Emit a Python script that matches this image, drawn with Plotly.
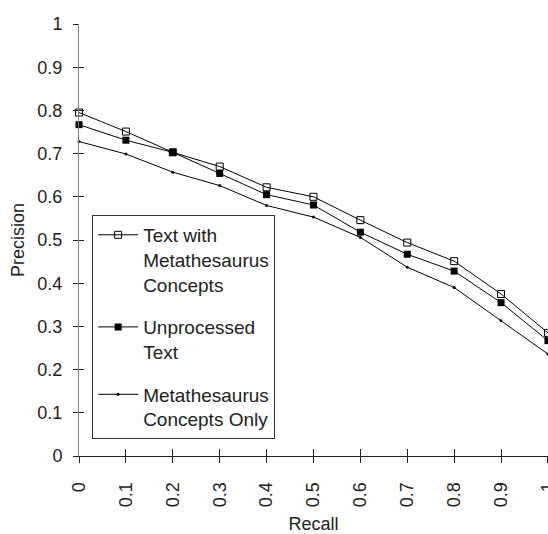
import plotly.graph_objects as go

recall = [0, 0.1, 0.2, 0.3, 0.4, 0.5, 0.6, 0.7, 0.8, 0.9, 1.0]
text_meta = [0.795, 0.751, 0.703, 0.670, 0.622, 0.600, 0.546, 0.494, 0.451, 0.375, 0.285]
unprocessed = [0.767, 0.731, 0.703, 0.654, 0.605, 0.581, 0.518, 0.467, 0.428, 0.355, 0.267]
meta_only = [0.728, 0.699, 0.657, 0.626, 0.580, 0.553, 0.506, 0.437, 0.390, 0.313, 0.236]

names = ["Text with<br>Metathesaurus<br>Concepts", "Unprocessed<br>Text",
         "Metathesaurus<br>Concepts Only"]
x_ticks = [0, 0.1, 0.2, 0.3, 0.4, 0.5, 0.6, 0.7, 0.8, 0.9, 1]
x_labels = ["0", "0.1", "0.2", "0.3", "0.4", "0.5", "0.6", "0.7", "0.8", "0.9", "1"]
y_ticks = [0, 0.1, 0.2, 0.3, 0.4, 0.5, 0.6, 0.7, 0.8, 0.9, 1]
y_labels = ["0", "0.1", "0.2", "0.3", "0.4", "0.5", "0.6", "0.7", "0.8", "0.9", "1"]

FONT = "Liberation Sans, Arial, sans-serif"

fig = go.Figure()
fig.add_trace(go.Scatter(x=recall, y=text_meta, name=names[0], mode="lines+markers",
                         line=dict(color="black", width=1),
                         marker=dict(symbol="square-open", size=7, color="black", line=dict(width=1)),
                         legendgroup="a", cliponaxis=False))
fig.add_trace(go.Scatter(x=recall, y=unprocessed, name=names[1], mode="lines+markers",
                         line=dict(color="black", width=1),
                         marker=dict(symbol="square", size=7, color="black"),
                         legendgroup="b", cliponaxis=False))
fig.add_trace(go.Scatter(x=recall, y=meta_only, name=names[2], mode="lines+markers",
                         line=dict(color="black", width=1),
                         marker=dict(symbol="circle", size=3, color="black"),
                         legendgroup="c", cliponaxis=False))

axis_gray = "#7f7f7f"
fig.update_layout(
    width=548, height=534,
    margin=dict(l=79, r=0, t=24, b=78, autoexpand=False),
    paper_bgcolor="white", plot_bgcolor="white",
    font=dict(family=FONT, size=18, color="#222"),
    showlegend=True,
    legend=dict(x=0.028, y=0.558, xanchor="left", yanchor="top",
                bordercolor="#333", borderwidth=1, bgcolor="white",
                font=dict(family=FONT, size=19, color="#222"),
                traceorder="grouped", tracegroupgap=15, valign="top",
                itemwidth=40),
    xaxis=dict(range=[0, 1.0001], tickvals=x_ticks, ticktext=x_labels, tickangle=-90,
               showgrid=False, zeroline=False, showline=True, linecolor="#222", linewidth=1,
               ticks="outside", ticklen=6, tickcolor="#222", ticklabelstandoff=12,
               ticklabeloverflow="allow", automargin=False,
               title=dict(text="Recall", standoff=14, font=dict(size=18))),
    yaxis=dict(range=[0, 1], tickvals=y_ticks, ticktext=y_labels,
               showgrid=False, zeroline=False, showline=True, linecolor=axis_gray, linewidth=1,
               ticks="outside", ticklen=5, tickcolor="#222", ticklabelstandoff=7,
               automargin=False,
               title=dict(text="Precision", standoff=8, font=dict(size=18))),
    xaxis2=dict(range=[0, 1.0001], tickvals=x_ticks, overlaying="x", side="bottom",
                showticklabels=False, showgrid=False, zeroline=False, showline=False,
                ticks="inside", ticklen=7, tickcolor="#222", automargin=False),
    yaxis2=dict(range=[0, 1], tickvals=y_ticks, overlaying="y", side="left",
                showticklabels=False, showgrid=False, zeroline=False, showline=False,
                ticks="inside", ticklen=5, tickcolor="#222", automargin=False),
)
fig.add_trace(go.Scatter(x=[], y=[], xaxis="x2", yaxis="y2", showlegend=False, hoverinfo="skip"))

fig.write_html("out.html", config={"displayModeBar": False},
               post_script="document.body.style.margin='0';document.body.style.overflow='hidden';")
